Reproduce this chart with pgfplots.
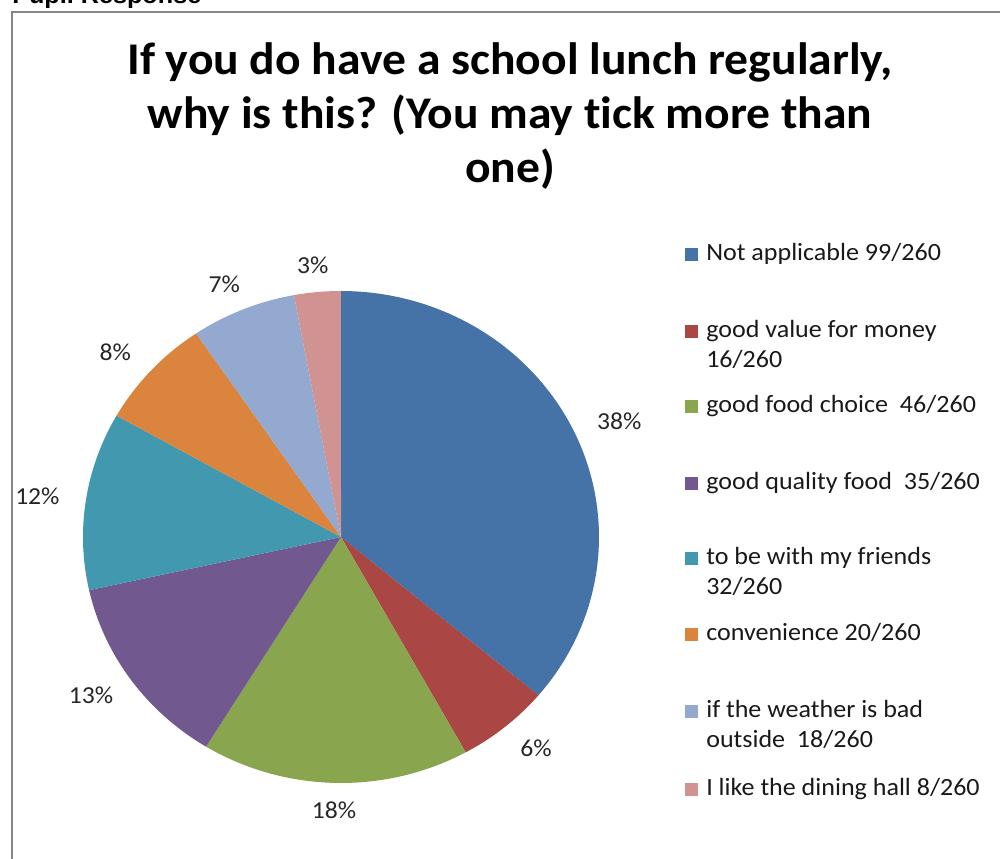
\documentclass[border=0pt]{standalone}
\usepackage{pgfplots}
\pgfplotsset{compat=1.18}
\usepackage{fontspec}
\setmainfont{Carlito}[RawFeature=-liga]
\newfontfamily\arialfont{Liberation Sans}
\definecolor{cA}{HTML}{4572A7}
\definecolor{cB}{HTML}{AA4643}
\definecolor{cC}{HTML}{89A54E}
\definecolor{cD}{HTML}{71588F}
\definecolor{cE}{HTML}{4198AF}
\definecolor{cF}{HTML}{DB843D}
\definecolor{cG}{HTML}{93A9CF}
\definecolor{cH}{HTML}{D19392}
\definecolor{framegray}{HTML}{868686}
\newcommand\pctfont{\fontsize{18.3}{22}\selectfont}
\newcommand\legfont{\fontsize{18.6}{22.5}\selectfont}
\tikzset{pctlabel/.style={font=\pctfont, text=black!85, xscale=1.05, inner sep=0pt}}
% #4 = number of extra lines (0 or 1)
\newcommand\legentry[4]{%
  \fill[#1] (685,{859-#2-6.5}) rectangle ++(13,13);
  \node[anchor=base west, align=left, font=\legfont, text=black!90, xscale=1.05, inner sep=0pt] at (706,{859-#2-6-30*#4}) {#3};}
\begin{document}
\begin{tikzpicture}[x=0.75pt,y=0.75pt]
\begin{scope}
\clip (0,0) rectangle (1000,859);
\node[anchor=base west, inner sep=0pt, xscale=1.05, font=\arialfont\bfseries\fontsize{18}{20}\selectfont] at (12,855) {Pupil Response};
\draw[framegray, line width=1.5pt] (11.5,-20) -- (11.5,846.5) -- (1020,846.5);
\node[align=center, font=\bfseries\fontsize{34}{40.5}\selectfont, xscale=1.05] at (510,743) {If you do have a school lunch regularly,\\why is this? (You may tick more than\\one)};
\begin{axis}[at={(255.75pt,241.5pt)}, anchor=center, width=387pt, height=369pt, scale only axis,
  xmin=-1, xmax=1, ymin=-1, ymax=1, hide axis, clip=false]
\xdef\cum{0}
\foreach \v/\c/\lab in {99/cA/38,16/cB/6,46/cC/18,35/cD/13,32/cE/12,20/cF/8,18/cG/7,8/cH/3}{
  \pgfmathsetmacro\e{\cum+\v}
  \pgfmathsetmacro\a{90-(360/274)*\cum}
  \pgfmathsetmacro\b{90-(360/274)*\e}
  \pgfmathsetmacro\m{(\a+\b)/2}
  \pgfmathsetmacro\lx{1.19*cos(\m)}
  \pgfmathsetmacro\ly{1.11*sin(\m)}
  \edef\temp{\noexpand\fill[\c] (axis cs:0,0) -- plot[domain=\a:\b, samples=90, variable=\noexpand\t] ({cos(\noexpand\t)},{sin(\noexpand\t)}) -- cycle;
    \noexpand\node[pctlabel] at (axis cs:\lx,\ly) {\lab\noexpand\%};}
  \temp
  \xdef\cum{\e}
}
\end{axis}
\legentry{cA}{255}{Not applicable 99/260}{0}
\legentry{cB}{331.5}{good value for money\\16/260}{1}
\legentry{cC}{406.5}{good food choice\ \ 46/260}{0}
\legentry{cD}{483.5}{good quality food\ \ 35/260}{0}
\legentry{cE}{559}{to be with my friends\\32/260}{1}
\legentry{cF}{635}{convenience 20/260}{0}
\legentry{cG}{712}{if the weather is bad\\outside\ \ 18/260}{1}
\legentry{cH}{789.5}{I like the dining hall 8/260}{0}
\end{scope}
\pgfresetboundingbox
\useasboundingbox (0,0) rectangle (1000,859);
\end{tikzpicture}
\end{document}
